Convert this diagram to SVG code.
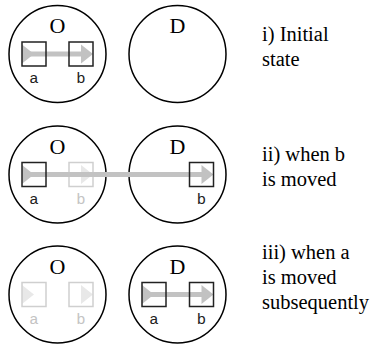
<svg xmlns="http://www.w3.org/2000/svg" width="372" height="346" viewBox="0 0 372 346">
  <style>
    .site { fill: #fff; stroke: #000; stroke-width: 1.5; }
    .site-name { font-family: "Liberation Serif", "Times New Roman", serif; font-size: 22px; text-anchor: middle; fill: #000; }
    .box { fill: none; stroke: #222; stroke-width: 1.5; }
    .box.ghost { stroke: #cfcfcf; }
    .lbl { font-family: "Liberation Mono", "Courier New", monospace; font-size: 15.5px; text-anchor: middle; fill: #222; }
    .lbl.ghost { fill: #c4c4c4; }
    .shaft { stroke: #c2c2c2; stroke-width: 5; fill: none; }
    .head { fill: #c2c2c2; }
    .head.ghost { fill: #e8e8e8; }
    .caption { font-family: "Liberation Serif", "Times New Roman", serif; font-size: 20.5px; fill: #000; }
  </style>
  <defs>
    <!-- arrow tail/head shape, base at the origin, pointing right -->
    <path id="tri" d="M0,-9.5 L12,0 L0,9.5 Z"/>
  </defs>

  <!-- i) initial state -->
  <g id="row1">
    <g id="r1-O"><circle class="site" cx="57.5" cy="54" r="48.5"/><text class="site-name" x="57.5" y="33">O</text></g>
    <g id="r1-D"><circle class="site" cx="177.5" cy="54" r="48.5"/><text class="site-name" x="177.5" y="33">D</text></g>
    <g id="r1-connectors">
      <line class="shaft" x1="30" y1="54" x2="83" y2="54"/>
      <use href="#tri" class="head" x="22" y="54"/>
      <use href="#tri" class="head" x="81" y="54"/>
    </g>
    <g id="r1-a"><rect class="box" x="22" y="42" width="24" height="24"/><text class="lbl" x="34" y="83">a</text></g>
    <g id="r1-b"><rect class="box" x="69" y="42" width="24" height="24"/><text class="lbl" x="81" y="83">b</text></g>
    <text class="caption" x="262" y="41">i) Initial</text>
    <text class="caption" x="262" y="66">state</text>
  </g>

  <!-- ii) when b is moved -->
  <g id="row2">
    <g id="r2-O"><circle class="site" cx="57.5" cy="174.5" r="48.5"/><text class="site-name" x="57.5" y="153.5">O</text></g>
    <g id="r2-D"><circle class="site" cx="177.5" cy="174.5" r="48.5"/><text class="site-name" x="177.5" y="153.5">D</text></g>
    <g id="r2-b-old">
      <use href="#tri" class="head ghost" x="81" y="174.5"/>
      <rect class="box ghost" x="69" y="162.5" width="24" height="24"/>
      <text class="lbl ghost" x="81" y="203.5">b</text>
    </g>
    <g id="r2-connectors">
      <line class="shaft" x1="30" y1="174.5" x2="203" y2="174.5"/>
      <use href="#tri" class="head" x="22" y="174.5"/>
      <use href="#tri" class="head" x="201.5" y="174.5"/>
    </g>
    <g id="r2-a"><rect class="box" x="22" y="162.5" width="24" height="24"/><text class="lbl" x="34" y="203.5">a</text></g>
    <g id="r2-b"><rect class="box" x="189.5" y="162.5" width="24" height="24"/><text class="lbl" x="201.5" y="203.5">b</text></g>
    <text class="caption" x="262" y="161">ii) when b</text>
    <text class="caption" x="262" y="186">is moved</text>
  </g>

  <!-- iii) when a is moved subsequently -->
  <g id="row3">
    <g id="r3-O"><circle class="site" cx="57.5" cy="294.5" r="48.5"/><text class="site-name" x="57.5" y="273.5">O</text></g>
    <g id="r3-D"><circle class="site" cx="177.5" cy="294.5" r="48.5"/><text class="site-name" x="177.5" y="273.5">D</text></g>
    <g id="r3-a-old">
      <use href="#tri" class="head ghost" x="22" y="294.5"/>
      <rect class="box ghost" x="22" y="282.5" width="24" height="24"/>
      <text class="lbl ghost" x="34" y="323.5">a</text>
    </g>
    <g id="r3-b-old">
      <use href="#tri" class="head ghost" x="81" y="294.5"/>
      <rect class="box ghost" x="69" y="282.5" width="24" height="24"/>
      <text class="lbl ghost" x="81" y="323.5">b</text>
    </g>
    <g id="r3-connectors">
      <line class="shaft" x1="150" y1="294.5" x2="203" y2="294.5"/>
      <use href="#tri" class="head" x="142" y="294.5"/>
      <use href="#tri" class="head" x="201.5" y="294.5"/>
    </g>
    <g id="r3-a"><rect class="box" x="142" y="282.5" width="24" height="24"/><text class="lbl" x="154" y="323.5">a</text></g>
    <g id="r3-b"><rect class="box" x="189.5" y="282.5" width="24" height="24"/><text class="lbl" x="201.5" y="323.5">b</text></g>
    <text class="caption" x="262" y="259">iii) when a</text>
    <text class="caption" x="262" y="284">is moved</text>
    <text class="caption" x="262" y="309">subsequently</text>
  </g>
</svg>
